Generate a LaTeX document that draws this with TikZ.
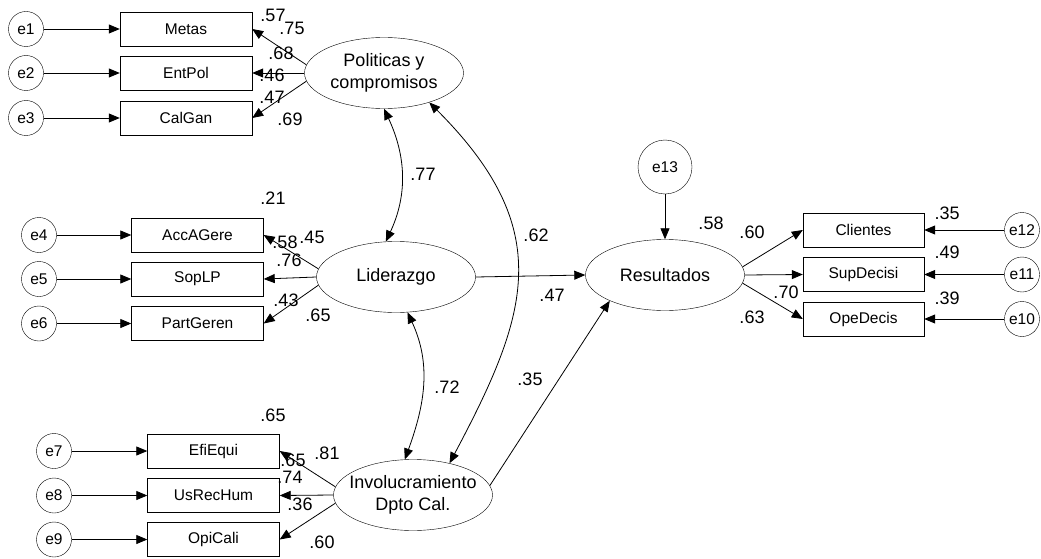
\documentclass[tikz,border=0pt]{standalone}
\usepackage{fontspec}
\setmainfont{Liberation Sans}
\usetikzlibrary{shapes.geometric,arrows.meta}
\begin{document}
\begin{tikzpicture}[x=1pt,y=-1pt,
  every node/.style={font=\fontsize{18}{22}\selectfont},
  obs/.style={draw,rectangle,minimum width=132pt,minimum height=34pt,inner sep=0pt,
    font=\fontsize{15.5}{18}\selectfont},
  obsr/.style={obs,minimum width=121pt},
  err/.style={draw,circle,minimum size=35pt,inner sep=0pt,font=\fontsize{15.5}{18}\selectfont},
  lat/.style={draw,ellipse,minimum width=159pt,minimum height=71pt,inner sep=0pt,align=center},
  coef/.style={inner sep=0pt},
  tip/.tip={Triangle[length=11pt,width=9pt]},
  reg/.style={-tip,line width=0.8pt},
  cov/.style={tip-tip,line width=0.8pt}
]
\useasboundingbox (0,0) rectangle (1041,559);

% latent variables
\node[lat] (pol) at (384,73) {\makebox[0pt]{Politicas y}\\\makebox[0pt]{compromisos}};
\node[lat] (lid) at (396,277) {\makebox[0pt]{Liderazgo}};
\node[lat] (inv) at (413,495) {\makebox[0pt]{Involucramiento}\\\makebox[0pt]{Dpto Cal.}};
\node[lat] (res) at (665,275) {\makebox[0pt]{Resultados}};

% observed indicators
\node[obs] (metas) at (186,29) {Metas};
\node[obs] (entpol) at (186,73) {EntPol};
\node[obs] (calgan) at (186,118) {CalGan};
\node[obs] (acc) at (197.5,235) {AccAGere};
\node[obs] (sop) at (197.5,279) {SopLP};
\node[obs] (part) at (197.5,323.5) {PartGeren};
\node[obs] (efi) at (213.5,451) {EfiEqui};
\node[obs] (usr) at (213.5,495.5) {UsRecHum};
\node[obs] (opi) at (213.5,539.5) {OpiCali};
\node[obsr] (cli) at (863.5,230) {Clientes};
\node[obsr] (sup) at (863.5,274.5) {SupDecisi};
\node[obsr] (ope) at (863.5,319) {OpeDecis};

% error terms
\node[err] (e1) at (26,29) {e1};
\node[err] (e2) at (26,73) {e2};
\node[err] (e3) at (26,118) {e3};
\node[err] (e4) at (39,235) {e4};
\node[err] (e5) at (39,279) {e5};
\node[err] (e6) at (39,323.5) {e6};
\node[err] (e7) at (54,451) {e7};
\node[err] (e8) at (54,495.5) {e8};
\node[err] (e9) at (54,539.5) {e9};
\node[err] (e12) at (1022,230) {e12};
\node[err] (e11) at (1022,274.5) {e11};
\node[err] (e10) at (1022,319) {e10};
\node[err,minimum size=54pt] (e13) at (665,167) {e13};

% error paths
\foreach \e/\o in {e1/metas,e2/entpol,e3/calgan,e4/acc,e5/sop,e6/part,
                   e7/efi,e8/usr,e9/opi,e12/cli,e11/sup,e10/ope}
  \draw[reg] (\e) -- (\o);
\draw[reg] (e13.south) -- (res.north);

% loadings
\draw[reg] (pol.174) -- (metas.east);
\draw[reg] (pol.west) -- (entpol.east);
\draw[reg] (pol.186) -- (calgan.east);
\draw[reg] (lid.174) -- (acc.east);
\draw[reg] (lid.west) -- (sop.east);
\draw[reg] (lid.186) -- (part.east);
\draw[reg] (inv.174) -- (efi.east);
\draw[reg] (inv.west) -- (usr.east);
\draw[reg] (inv.186) -- (opi.east);
\draw[reg] (res.6) -- (cli.west);
\draw[reg] (res.east) -- (sup.west);
\draw[reg] (res.-6) -- (ope.west);

% structural paths
\draw[reg] (lid.east) -- (res.west);
\draw[reg] (inv.7) -- (res.205);

% correlations
\draw[cov] (pol.270) to[out=-65,in=65] (lid.106);
\draw[cov] (lid.-72) to[out=-65,in=70] (inv.103);
\draw[cov] (pol.-33) .. controls +(-45:180pt) and +(62:170pt) .. (inv.41);

% estimates
\node[coef] (c1) at (273,15) {.57};
\node[coef] (c2) at (292,28) {.75};
\node[coef] (c3) at (281,53) {.68};
\node[coef] (c4) at (272,75) {.46};
\node[coef] (c5) at (272,97) {.47};
\node[coef] (c6) at (290,119) {.69};
\node[coef] (c7) at (273,198) {.21};
\node[coef] (c8) at (285,242) {.58};
\node[coef] (c9) at (312,237) {.45};
\node[coef] (c10) at (289,260) {.76};
\node[coef] (c11) at (286,300) {.43};
\node[coef] (c12) at (318,315) {.65};
\node[coef] (c13) at (423,174) {.77};
\node[coef] (c14) at (536,235) {.62};
\node[coef] (c15) at (552,295) {.47};
\node[coef] (c16) at (447,387) {.72};
\node[coef] (c17) at (530,379) {.35};
\node[coef] (c18) at (711,223) {.58};
\node[coef] (c19) at (752,232) {.60};
\node[coef] (c20) at (786,292) {.70};
\node[coef] (c21) at (752,317) {.63};
\node[coef] (c22) at (947,213) {.35};
\node[coef] (c23) at (947,252) {.49};
\node[coef] (c24) at (947,298) {.39};
\node[coef] (c25) at (273,415) {.65};
\node[coef] (c26) at (327,453) {.81};
\node[coef] (c27) at (293,460) {.65};
\node[coef] (c28) at (290,477) {.74};
\node[coef] (c29) at (300,504) {.36};
\node[coef] (c30) at (322,542) {.60};
\end{tikzpicture}
\end{document}
